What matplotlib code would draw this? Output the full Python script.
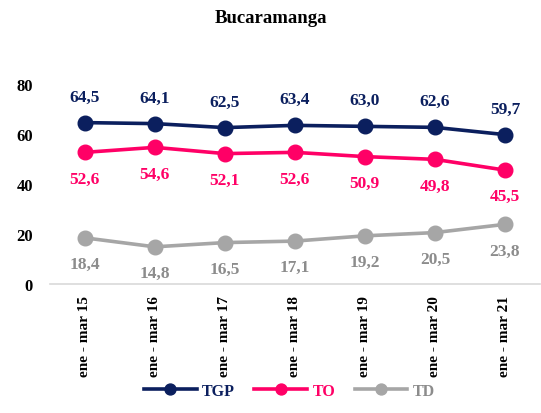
import matplotlib.pyplot as plt

periodos = ["ene - mar 15", "ene - mar 16", "ene - mar 17", "ene - mar 18",
            "ene - mar 19", "ene - mar 20", "ene - mar 21"]
tgp = [64.5, 64.1, 62.5, 63.4, 63.0, 62.6, 59.7]
to = [52.6, 54.6, 52.1, 52.6, 50.9, 49.8, 45.5]
td = [18.4, 14.8, 16.5, 17.1, 19.2, 20.5, 23.8]

plt.rcParams['font.family'] = ['Liberation Serif', 'DejaVu Serif']
plt.rcParams['font.weight'] = 'bold'

fig = plt.figure(figsize=(5.41, 4.14), dpi=100)
ax = fig.add_axes([0.092, 0.312, 0.906, 0.483])

x = range(len(periodos))
series = [
    ("TGP", tgp, "#0B1F5E", "#0B1F5E", 13),
    ("TO", to, "#FF0066", "#FF0066", -13),
    ("TD", td, "#A6A6A6", "#8C8C8C", -13),
]
for name, vals, col, lblcol, off in series:
    ax.plot(x, vals, color=col, lw=2.6, marker='o', ms=10.5, label=name)
    for xi, v in zip(x, vals):
        ax.annotate(f"{v:.1f}".replace('.', ','), (xi, v), xytext=(0, off),
                    textcoords='offset points', ha='center',
                    va='bottom' if off > 0 else 'top',
                    color=lblcol, fontsize=12.5, fontweight='bold')

ax.set_xlim(-0.5, len(periodos) - 0.5)
ax.set_ylim(0, 80)
ax.set_yticks([0, 20, 40, 60, 80])
ax.set_xticks(list(x))
ax.set_xticklabels(periodos, rotation=90, fontsize=11, fontweight='bold')
ax.tick_params(axis='y', labelsize=12, length=0, pad=12)
ax.tick_params(axis='x', length=0, pad=8)
for s in ['top', 'right', 'left']:
    ax.spines[s].set_visible(False)
ax.spines['bottom'].set_color('#D9D9D9')
ax.spines['bottom'].set_linewidth(1.2)

fig.suptitle("Bucaramanga", y=0.975, fontsize=13.5, fontweight='bold')

leg = fig.legend(loc='center', bbox_to_anchor=(0.535, 0.053), ncol=3,
                 frameon=False, fontsize=11.5, handlelength=3.3,
                 markerscale=0.75, columnspacing=1.2, handletextpad=0.35)
for text, (_, _, col, lblcol, _) in zip(leg.get_texts(), series):
    text.set_color(lblcol)

fig.savefig("out.png", dpi=100)
